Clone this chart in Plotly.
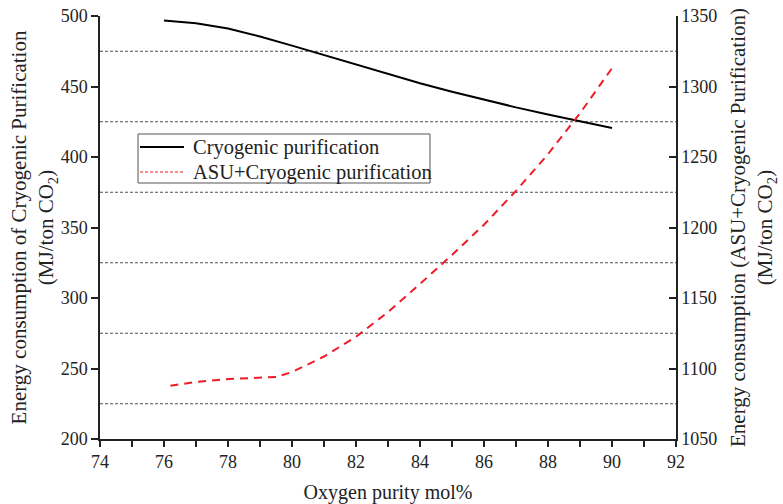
import plotly.graph_objects as go

# Data
cryo_x = [76, 77, 78, 79, 80, 81, 82, 83, 84, 85, 86, 87, 88, 89, 90]
cryo_y = [496.8, 494.8, 491.2, 485.5, 479.0, 472.2, 465.5, 458.6, 452.3, 446.3, 440.6, 435.2, 430.2, 425.3, 420.5]

asu_x = [76.2, 77, 78, 79, 79.5, 80, 81, 82, 83, 84, 85, 86, 87, 88, 89, 90]
asu_y = [1087.8, 1090.5, 1092.5, 1093.3, 1094.0, 1097.5, 1108.5, 1122.5, 1140.0, 1160.0, 1180.5, 1202.0, 1226.0, 1252.0, 1281.0, 1313.0]

grid_levels = [225, 275, 325, 375, 425, 475]

series_names = ["Cryogenic purification", "ASU+Cryogenic purification"]

FONT = "Liberation Serif"
INK = "#222"
RED = "#ee1c25"

fig = go.Figure()
fig.add_trace(go.Scatter(x=cryo_x, y=cryo_y, mode="lines", name=series_names[0],
                         line=dict(color="black", width=2), yaxis="y", showlegend=False))
fig.add_trace(go.Scatter(x=asu_x, y=asu_y, mode="lines", name=series_names[1],
                         line=dict(color=RED, width=2, dash="8px,6px"), yaxis="y2", showlegend=False))

for g in grid_levels:
    fig.add_shape(type="line", xref="paper", x0=0, x1=1, yref="y", y0=g, y1=g,
                  line=dict(color=INK, width=0.8, dash="3px,2px"), layer="below")

# legend box (paper coords of plot area)
def px_x(x):
    return (x - 100) / 576.0

def px_y(y):
    return (439 - y) / 423.0

fig.add_shape(type="rect", xref="paper", yref="paper",
              x0=px_x(138), x1=px_x(430), y0=px_y(183), y1=px_y(134),
              line=dict(color="#555", width=1), fillcolor="white", layer="above")
fig.add_shape(type="line", xref="paper", yref="paper",
              x0=px_x(140), x1=px_x(184), y0=px_y(147), y1=px_y(147),
              line=dict(color="black", width=2), layer="above")
fig.add_shape(type="line", xref="paper", yref="paper",
              x0=px_x(140), x1=px_x(184), y0=px_y(172), y1=px_y(172),
              line=dict(color=RED, width=1, dash="3px,2px"), layer="above")
for name, yy in zip(series_names, [147, 172]):
    fig.add_annotation(xref="paper", yref="paper", x=px_x(191), y=px_y(yy),
                       xanchor="left", yanchor="middle", showarrow=False, text=name,
                       font=dict(family=FONT, size=20.5, color=INK))

fig.update_layout(
    width=783, height=504,
    margin=dict(l=100, r=107, t=16, b=65),
    paper_bgcolor="white", plot_bgcolor="white",
    font=dict(family=FONT, size=18, color=INK),
    showlegend=False,
    xaxis=dict(range=[74, 92], tickmode="linear", tick0=74, dtick=2, automargin=False,
               ticks="outside", ticklen=6, tickwidth=1.5, tickcolor=INK,
               minor=dict(dtick=1, ticks="outside", ticklen=6, tickwidth=1.5, tickcolor=INK),
               showline=True, linecolor=INK, linewidth=1.5, showgrid=False, zeroline=False,
               title=dict(text="Oxygen purity mol%", font=dict(family=FONT, size=20), standoff=14),
               tickfont=dict(family=FONT, size=18)),
    xaxis2=dict(range=[74, 92], overlaying="x", side="top", tickmode="linear", tick0=74, dtick=1,
                ticks="inside", ticklen=6, tickwidth=1.5, tickcolor=INK, automargin=False,
                showticklabels=False, showline=True, linecolor=INK, linewidth=1.5,
                showgrid=False, zeroline=False),
    yaxis=dict(range=[200, 500], tickmode="linear", tick0=200, dtick=50, automargin=False,
               ticks="outside", ticklen=7, tickwidth=1.5, tickcolor=INK,
               showline=True, linecolor=INK, linewidth=1.5, showgrid=False, zeroline=False,
               title=dict(text="Energy consumption of Cryogenic Purification<br>(MJ/ton CO<sub>2</sub>)",
                          font=dict(family=FONT, size=21), standoff=1),
               tickfont=dict(family=FONT, size=18)),
    yaxis2=dict(range=[1050, 1350], overlaying="y", side="right", tickmode="linear", tick0=1050, dtick=50,
                ticks="inside", ticklen=7, tickwidth=1.5, tickcolor=INK, automargin=False,
                showline=True, linecolor=INK, linewidth=1.5, showgrid=False, zeroline=False,
                title=dict(text="Energy consumption (ASU+Cryogenic Purification)<br>(MJ/ton CO<sub>2</sub>)",
                           font=dict(family=FONT, size=21), standoff=14),
                tickfont=dict(family=FONT, size=18)),
)

fig.write_html("out.html")
